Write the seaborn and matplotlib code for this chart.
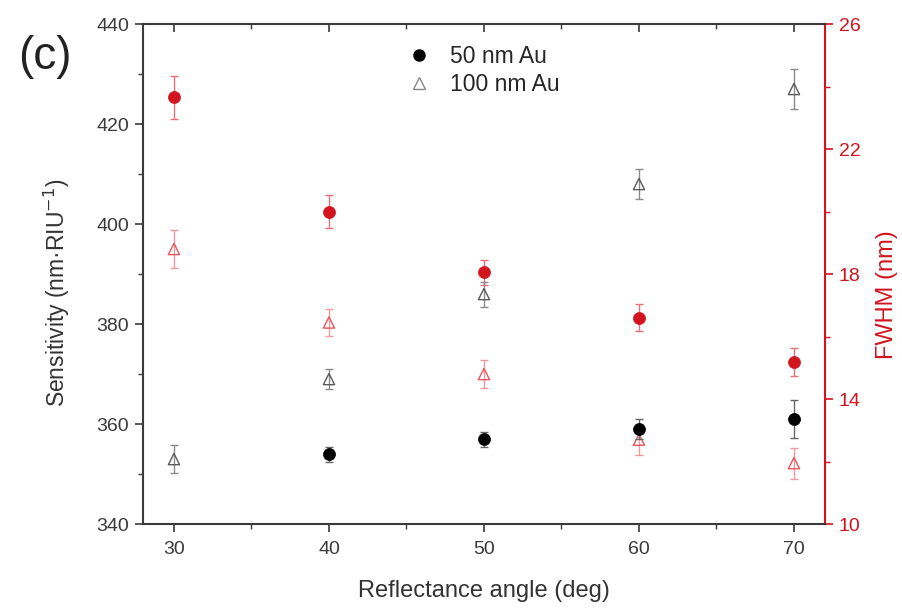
import matplotlib
matplotlib.use("Agg")
import matplotlib.pyplot as plt
import seaborn as sns
import pandas as pd
import numpy as np
from matplotlib.ticker import MultipleLocator, FixedLocator, NullFormatter
from matplotlib.lines import Line2D

sns.set_theme(style="white")
plt.rcParams['font.family'] = ['Liberation Sans', 'DejaVu Sans']

angles = [30, 40, 50, 60, 70]
angles_50 = [40, 50, 60, 70]
sens_50 = [354, 357, 359, 361]
sens_50_err = [1.5, 1.5, 2.0, 3.8]
sens_100 = [353, 369, 386, 408, 427]
sens_100_err = [2.8, 2.0, 2.5, 3.0, 4.0]
fwhm_50 = [23.65, 20.0, 18.05, 16.6, 15.2]
fwhm_50_err = [0.7, 0.53, 0.4, 0.43, 0.45]
fwhm_100 = [18.8, 16.45, 14.8, 12.7, 11.95]
fwhm_100_err = [0.6, 0.43, 0.45, 0.5, 0.5]
fwhm_major = [10, 14, 18, 22, 26]
fwhm_minor = [12, 16, 20, 24]

AX = '#3a3a3a'
RED = '#d2141e'
LRED = '#e8555c'

fig = plt.figure(figsize=(9.02, 6.08), dpi=100)
ax = fig.add_axes([0.1585, 0.138, 0.9146 - 0.1585, 0.9605 - 0.138])
ax2 = ax.twinx()

df50 = pd.DataFrame({'angle': angles_50, 'val': sens_50})
df100 = pd.DataFrame({'angle': angles, 'val': sens_100})
dff50 = pd.DataFrame({'angle': angles, 'val': fwhm_50})
dff100 = pd.DataFrame({'angle': angles, 'val': fwhm_100})

# FWHM (right axis)
ax2.errorbar(angles, fwhm_100, yerr=fwhm_100_err, fmt='none', ecolor='#f09aa0', elinewidth=1.0, capsize=3, capthick=1.0, zorder=2)
sns.scatterplot(data=dff100, x='angle', y='val', ax=ax2, marker='^', s=65, facecolor='none', edgecolor=LRED, linewidth=1.0, zorder=3)
ax2.errorbar(angles, fwhm_50, yerr=fwhm_50_err, fmt='none', ecolor='#e87078', elinewidth=1.0, capsize=3, capthick=1.0, zorder=2)
sns.scatterplot(data=dff50, x='angle', y='val', ax=ax2, marker='o', s=75, color=RED, edgecolor=RED, linewidth=0.5, zorder=4)

# Sensitivity (left axis)
ax.errorbar(angles, sens_100, yerr=sens_100_err, fmt='none', ecolor='#8a8a8a', elinewidth=1.0, capsize=3, capthick=1.0, zorder=2)
sns.scatterplot(data=df100, x='angle', y='val', ax=ax, marker='^', s=65, facecolor='none', edgecolor='#5a5a5a', linewidth=1.0, zorder=3)
ax.errorbar(angles_50, sens_50, yerr=sens_50_err, fmt='none', ecolor='#666666', elinewidth=1.0, capsize=3, capthick=1.0, zorder=2)
sns.scatterplot(data=df50, x='angle', y='val', ax=ax, marker='o', s=75, color='black', edgecolor='black', linewidth=0.5, zorder=4)

ax.set_zorder(ax2.get_zorder() + 1)
ax.patch.set_visible(False)

ax.set_xlim(28, 72)
ax.set_ylim(340, 440)
ax2.set_ylim(10, 26)

ax.xaxis.set_major_locator(MultipleLocator(10))
ax.xaxis.set_minor_locator(MultipleLocator(5))
ax.yaxis.set_major_locator(MultipleLocator(20))
ax.yaxis.set_minor_locator(MultipleLocator(10))
ax2.yaxis.set_major_locator(FixedLocator(fwhm_major))
ax2.yaxis.set_minor_locator(FixedLocator(fwhm_minor))

for s in ['left', 'bottom', 'top']:
    ax.spines[s].set_color(AX)
    ax.spines[s].set_linewidth(1.5)
ax.spines['right'].set_visible(False)
for s in ['left', 'bottom', 'top']:
    ax2.spines[s].set_visible(False)
ax2.spines['right'].set_color(RED)
ax2.spines['right'].set_linewidth(1.5)

ax.tick_params(axis='x', which='both', direction='out', bottom=True, top=False, colors=AX, labelsize=14, pad=6)
ax.tick_params(axis='x', which='major', length=6, width=1.2)
ax.tick_params(axis='x', which='minor', length=3.5, width=1.0)
ax.tick_params(axis='y', which='both', direction='out', left=True, right=False, colors=AX, labelsize=14, pad=4)
ax.tick_params(axis='y', which='major', length=6, width=1.2)
ax.tick_params(axis='y', which='minor', length=3.5, width=1.0)

# top ticks pointing inward
sec = ax.secondary_xaxis('top')
sec.xaxis.set_major_locator(MultipleLocator(10))
sec.xaxis.set_minor_locator(MultipleLocator(5))
sec.xaxis.set_major_formatter(NullFormatter())
sec.tick_params(axis='x', which='both', direction='in', colors=AX)
sec.tick_params(axis='x', which='major', length=6, width=1.2)
sec.tick_params(axis='x', which='minor', length=3.5, width=1.0)
sec.spines['top'].set_visible(False)

ax2.tick_params(axis='y', which='both', direction='out', right=True, colors=RED, labelsize=14, pad=4)
ax2.tick_params(axis='y', which='major', length=6, width=1.2)
ax2.tick_params(axis='y', which='minor', length=3.5, width=1.0)

ax.set_xlabel('Reflectance angle (deg)', fontsize=17, color='#333333')
ax.xaxis.set_label_coords(0.5, -0.112)
ax.set_ylabel('Sensitivity (nm·RIU$^{-1}$)', fontsize=16.5, color='#333333')
ax.yaxis.set_label_coords(-0.104, 0.462)
ax2.set_ylabel('FWHM (nm)', fontsize=17, color=RED)
ax2.yaxis.set_label_coords(1.075, 0.458)

fig.text(0.02, 0.942, '(c)', fontsize=33, color='#222222', va='top', ha='left')

handles = [
    Line2D([], [], marker='o', linestyle='none', color='black', markersize=8),
    Line2D([], [], marker='^', linestyle='none', markerfacecolor='none', markeredgecolor='#888888', markersize=8),
]
ax.legend(handles, ['50 nm Au', '100 nm Au'], loc='upper left', bbox_to_anchor=(0.35, 1.0),
          frameon=False, fontsize=16.5, handletextpad=0.6, labelspacing=0.25, handlelength=1.5)

fig.savefig('out.png', dpi=100)
